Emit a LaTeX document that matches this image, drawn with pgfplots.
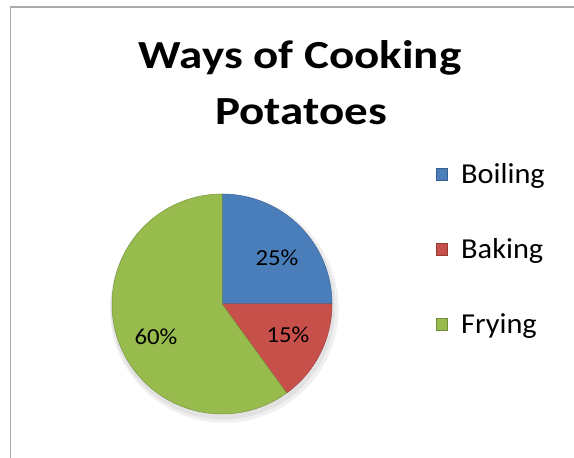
\documentclass[border=0pt]{standalone}
\usepackage{pgfplots}
\pgfplotsset{compat=1.18}
\usepackage{fontspec}
\setmainfont{Carlito}
\definecolor{boil}{HTML}{4A7EBB}
\definecolor{bake}{HTML}{C8504B}
\definecolor{fry}{HTML}{98BB4E}
\definecolor{frame}{HTML}{ABABAB}

% slice values (percent), drawn clockwise from 12 o'clock
\def\vBoil{25}
\def\vBake{15}
\def\vFry{60}
\pgfmathsetmacro{\aA}{90}
\pgfmathsetmacro{\aB}{\aA-3.6*\vBoil}
\pgfmathsetmacro{\aC}{\aB-3.6*\vBake}
\pgfmathsetmacro{\aD}{\aC-3.6*\vFry}

\begin{document}
\begin{tikzpicture}[x=1bp,y=1bp]
  \useasboundingbox (0,0) rectangle (574,458);
  \draw[frame, line width=1.6bp] (10.5,0) |- (574,451);
  \coordinate (piecenter) at (222,154);

  \begin{axis}[
      at={(piecenter)}, anchor=origin,
      scale only axis, width=220bp, height=220bp,
      xmin=-1, xmax=1, ymin=-1, ymax=1,
      hide axis, clip=false,
    ]
    % soft shadow
    \fill[black, opacity=0.06] (axis cs:0.02,-0.04) circle[radius=1.04];
    \fill[black, opacity=0.06] (axis cs:0.01,-0.03) circle[radius=1.02];
    \filldraw[fill=boil, draw=boil!80!black, line width=0.5bp]
      (axis cs:0,0) -- (axis cs:{cos(\aA)},{sin(\aA)}) arc[start angle=\aA, end angle=\aB, radius=1] -- cycle;
    \filldraw[fill=bake, draw=bake!80!black, line width=0.5bp]
      (axis cs:0,0) -- (axis cs:{cos(\aB)},{sin(\aB)}) arc[start angle=\aB, end angle=\aC, radius=1] -- cycle;
    \filldraw[fill=fry, draw=fry!80!black, line width=0.5bp]
      (axis cs:0,0) -- (axis cs:{cos(\aC)},{sin(\aC)}) arc[start angle=\aC, end angle=\aD, radius=1] -- cycle;
  \end{axis}

  % slice labels
  \begin{scope}[every node/.style={anchor=base, inner sep=0pt, xscale=1.08, font=\fontsize{23}{23}\selectfont}]
    \node at (277,192) {\vBoil\%};
    \node at (288,115) {\vBake\%};
    \node at (156,113) {\vFry\%};
  \end{scope}

  % title
  \begin{scope}[every node/.style={anchor=base, inner sep=0pt, xscale=1.18, font=\bfseries\fontsize{40}{40}\selectfont}]
    \node at (300,389) {Ways of Cooking};
    \node at (301,333) {Potatoes};
  \end{scope}

  % legend
  \foreach \c/\t/\yy in {boil/Boiling/274, bake/Baking/199, fry/Frying/124} {
    \fill[\c, draw=\c!75!black, line width=0.4bp] (436,\yy+4) rectangle (447,\yy+16);
    \node[anchor=base west, inner sep=0pt, xscale=1.05, font=\fontsize{29}{29}\selectfont] at (461,\yy) {\t};
  }
\end{tikzpicture}
\end{document}
